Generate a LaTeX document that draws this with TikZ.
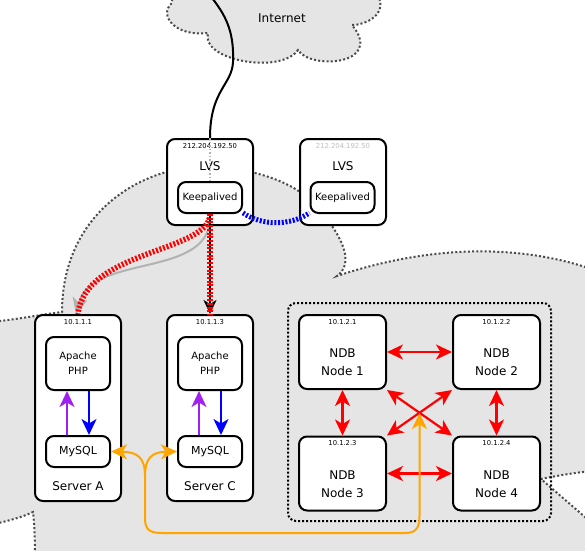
\documentclass[tikz,border=0pt]{standalone}
\usepackage{fontspec}
\setmainfont{DejaVu Sans}
\usetikzlibrary{arrows.meta}

\definecolor{cloudgrey}{HTML}{E5E5E5}
\definecolor{clouddots}{HTML}{4A4A4A}
\definecolor{linkorange}{HTML}{FFA500}
\definecolor{linkpurple}{HTML}{A020F0}

\tikzset{
	cloudline/.style={draw=clouddots, fill=cloudgrey, line width=2pt, dash pattern=on 2pt off 2.2pt},
	box/.style={draw, fill=white, line width=2pt, rounded corners=8pt, inner sep=0pt},
	ipaddr/.style={font=\fontsize{6.8}{8}\selectfont, inner sep=0pt},
	bigtext/.style={font=\fontsize{12}{18}\selectfont, align=center, inner sep=0pt},
	smalltext/.style={font=\fontsize{10}{15}\selectfont, align=center},
	headtip/.style={-{Stealth[length=16pt,width=15pt,inset=4.5pt]}},
	bothtips/.style={{Stealth[length=16pt,width=15pt,inset=4.5pt]}-{Stealth[length=16pt,width=15pt,inset=4.5pt]}},
	redband/.style={red, line width=5.5pt, dash pattern=on 2pt off 1.7pt},
}

\begin{document}
\begin{tikzpicture}[x=1pt, y=-1pt]
\useasboundingbox (0,0) rectangle (585,550);

%Clouds
\begin{scope}
	\clip (0,0) rectangle (585,550);
	\path[cloudline] (172,-5) -- (172,3) .. controls (158,15) and (175,37) .. (208,33)
		.. controls (200,60) and (280,75) .. (298,50)
		.. controls (310,70) and (385,65) .. (352,25)
		.. controls (365,25) and (388,15) .. (378,-5) -- cycle;
	\path[cloudline] (-5,322) -- (0,321) .. controls (25,318) and (45,314) .. (62,312)
		.. controls (62,240) and (105,190) .. (166,172) -- (255,173)
		.. controls (275,178) and (290,185) .. (300,192) -- (332,226)
		.. controls (345,245) and (352,265) .. (337,276)
		.. controls (400,255) and (500,235) .. (600,272) -- (600,470)
		.. controls (580,472) and (560,475) .. (541,479) -- (600,530) -- (600,560) -- (35,560)
		.. controls (35,535) and (34,520) .. (33,512)
		.. controls (20,518) and (10,520) .. (-5,524) -- cycle;
\end{scope}
\node[bigtext] (inettxt) at (282,18) {Internet};

%NDB group
\node[draw, line width=2pt, dash pattern=on 2pt off 2pt, rounded corners=8pt,
	minimum width=263pt, minimum height=218pt] (ndbgrp) at (419.5,412) {};

\begin{scope}[every node/.style={box}]
	%LVS
	\node[minimum width=86pt, minimum height=86pt] (lvs1) at (210,182) {};
	\node[minimum width=86pt, minimum height=86pt] (lvs2) at (343,182) {};
	\node[smalltext, minimum width=64pt, minimum height=31pt] (ka1) at (210,197.5) {Keepalived};
	\node[smalltext, minimum width=64pt, minimum height=31pt] (ka2) at (342.5,197.5) {Keepalived};

	%Servers
	\node[minimum width=86pt, minimum height=186pt] (srvA) at (78,408) {};
	\node[minimum width=86pt, minimum height=186pt] (srvC) at (210,408) {};
	\node[smalltext, minimum width=64pt, minimum height=53pt] (apacheA) at (78,363.5) {Apache\\PHP};
	\node[smalltext, minimum width=64pt, minimum height=53pt] (apacheC) at (210,363.5) {Apache\\PHP};
	\node[smalltext, font=\fontsize{11}{13}\selectfont, minimum width=64pt, minimum height=31pt] (mysqlA) at (78,451.5) {MySQL};
	\node[smalltext, font=\fontsize{11}{13}\selectfont, minimum width=64pt, minimum height=31pt] (mysqlC) at (210,451.5) {MySQL};

	%NDB nodes
	\node[minimum width=87pt, minimum height=74pt] (n1) at (342.5,352) {};
	\node[minimum width=87pt, minimum height=74pt] (n2) at (496.5,352) {};
	\node[minimum width=87pt, minimum height=74pt] (n3) at (342.5,473.5) {};
	\node[minimum width=87pt, minimum height=74pt] (n4) at (496.5,473.5) {};
\end{scope}

%Labels
\node[ipaddr] (ip1) at (210,146) {212.204.192.50};
\node[ipaddr, text=black!25] (ip2) at (343,146) {212.204.192.50};
\node[bigtext] (lvs1txt) at (210,166) {LVS};
\node[bigtext] (lvs2txt) at (343,166) {LVS};
\node[ipaddr] (ipA) at (78,322.5) {10.1.1.1};
\node[ipaddr] (ipC) at (210,322.5) {10.1.1.3};
\node[bigtext] (srvAtxt) at (78,486) {Server A};
\node[bigtext] (srvCtxt) at (210,486) {Server C};
\node[ipaddr] (ipn1) at (342.5,322) {10.1.2.1};
\node[ipaddr] (ipn2) at (496.5,322) {10.1.2.2};
\node[ipaddr] (ipn3) at (342.5,443) {10.1.2.3};
\node[ipaddr] (ipn4) at (496.5,443) {10.1.2.4};
\node[bigtext] (n1txt) at (342.5,362.5) {NDB\\Node 1};
\node[bigtext] (n2txt) at (496.5,362.5) {NDB\\Node 2};
\node[bigtext] (n3txt) at (342.5,484) {NDB\\Node 3};
\node[bigtext] (n4txt) at (496.5,484) {NDB\\Node 4};

\coordinate (inet) at (212,-2);
\coordinate (ndbmid) at (419.5,413);
\coordinate (ojoin) at (145,476);

%Uplink
\draw[line width=2pt] (inet) .. controls (228,18) and (234,35) .. (233,62)
	.. controls (232,85) and (210,90) .. (lvs1.north);
\draw[black!30, line width=1.5pt, dotted] (lvs1.north) -- (ka1.north);

%Keepalived
\draw[blue, line width=5pt, dash pattern=on 2pt off 1.7pt] (ka1.-25) .. controls (262,226) and (290,226) .. (ka2.205);
\draw[black!30, line width=2pt, headtip] (ka1.south) .. controls (214,280) and (92,252) .. ([xshift=-2pt]srvA.north);
\draw[redband] (ka1.south) .. controls (210,252) and (85,250) .. (srvA.north);
\draw[line width=2pt, -{Stealth[length=14pt,width=13pt,inset=4pt]}] (ka1.south) -- (srvC.north);
\draw[redband] (ka1.south) -- (srvC.north);

%Servers
\draw[linkpurple, line width=2pt, headtip] ([xshift=-11pt]mysqlA.north) -- ([xshift=-11pt]apacheA.south);
\draw[blue, line width=2pt, headtip] ([xshift=11pt]apacheA.south) -- ([xshift=11pt]mysqlA.north);
\draw[linkpurple, line width=2pt, headtip] ([xshift=-11pt]mysqlC.north) -- ([xshift=-11pt]apacheC.south);
\draw[blue, line width=2pt, headtip] ([xshift=11pt]apacheC.south) -- ([xshift=11pt]mysqlC.north);

%NDB
\begin{scope}[red, line width=2.2pt, bothtips]
	\path (n1.east) edge (n2.west);
	\path (n3.east) edge (n4.west);
	\path (n1.south) edge (n3.north);
	\path (n2.south) edge (n4.north);
	\path (n1.south east) edge (n4.north west);
	\path (n2.south west) edge (n3.north east);
\end{scope}

%Replication
\draw[linkorange, line width=2pt, bothtips] (mysqlA.east) .. controls (138,452) and (145,458) .. (ojoin)
	-- (145,518) .. controls (145,530) and (150,533) .. (162,533) -- (405,533)
	.. controls (416,533) and (419.5,528) .. (419.5,516) -- (ndbmid);
\draw[linkorange, line width=2pt, headtip] (ojoin) .. controls (145,458) and (152,452) .. (mysqlC.west);

\end{tikzpicture}
\end{document}
